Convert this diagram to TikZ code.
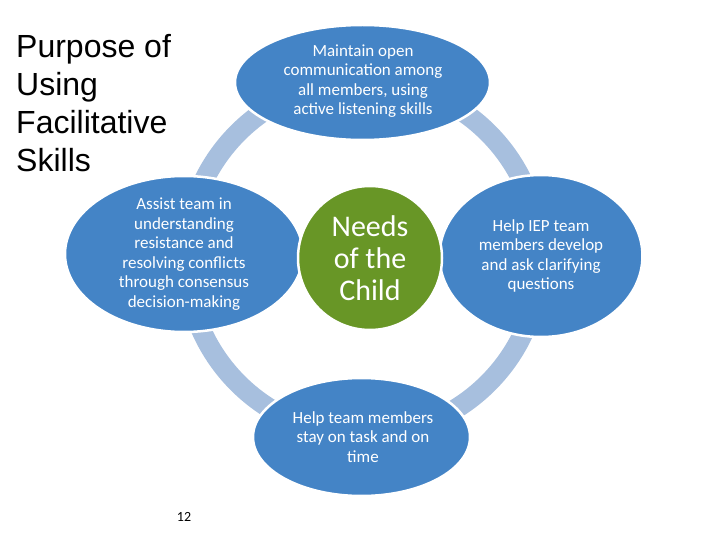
\documentclass[tikz,border=0pt]{standalone}
\usepackage{fontspec}
\setmainfont{Carlito}
\newfontfamily\headfont{Liberation Sans}
\usetikzlibrary{shapes.geometric}
\definecolor{sky}{RGB}{68,132,198}
\definecolor{moss}{RGB}{104,150,38}
\definecolor{haze}{RGB}{167,191,222}
\tikzset{
  petal/.style={ellipse,fill=sky,draw=white,line width=2.5pt,inner sep=0pt},
  petal text/.style={text=white,align=center,inner sep=0pt,
    font=\fontsize{17}{19.5}\selectfont},
  core/.style={circle,fill=moss,draw=white,line width=2.5pt,inner sep=0pt,
    minimum size=144pt,text=white,align=center,font=\fontsize{30}{32}\selectfont},
  rim/.style={draw=haze,line width=20pt},
}
\begin{document}
\begin{tikzpicture}[x=1pt,y=-1pt]
  \useasboundingbox (0,0) rectangle (720,540);
  \coordinate (ctr) at (363,258);
  \draw[rim] (ctr) circle [radius=177];
  % four petals round the centre
  \node[petal,minimum width=255pt,minimum height=115pt] (p1) at (362.5,82.5) {};
  \node[petal,minimum width=238pt,minimum height=156pt] (p2) at (184,254) {};
  \node[petal,minimum width=203pt,minimum height=162pt] (p3) at (541,256) {};
  \node[petal,minimum width=217pt,minimum height=118pt] (p4) at (361.5,437) {};
  \node[petal text] (p1 text) at (363,81) {Maintain open\\communication among\\all members, using\\active listening skills};
  \node[petal text] (p2 text) at (184,254) {Assist team in\\understanding\\resistance and\\resolving conflicts\\through consensus\\decision-making};
  \node[petal text] (p3 text) at (541,256) {Help IEP team\\members develop\\and ask clarifying\\questions};
  \node[petal text] (p4 text) at (363,437) {Help team members\\stay on task and on\\time};
  \node[core] (child) at (370,258) {Needs\\of the\\Child};
  \node[anchor=west,align=left,inner sep=0pt,font=\headfont\fontsize{32}{38}\selectfont] (title) at (16,103) {Purpose of\\Using\\Facilitative\\Skills};
  \node[font=\fontsize{14}{16}\selectfont] (page) at (184,517) {12};
\end{tikzpicture}
\end{document}
